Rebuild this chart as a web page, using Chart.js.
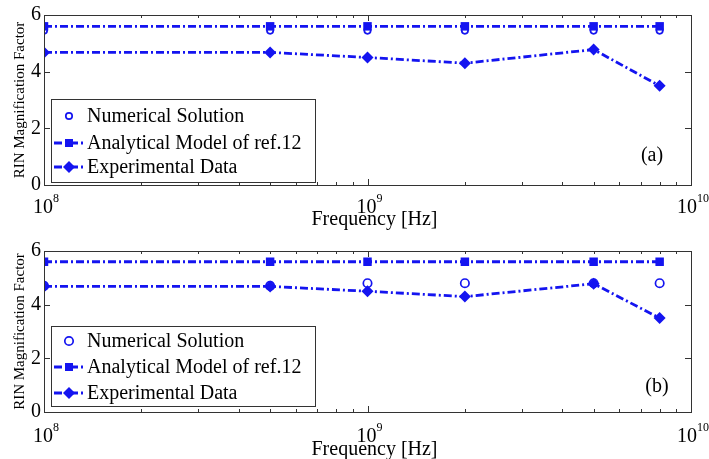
<!DOCTYPE html>
<html>
<head>
<meta charset="utf-8">
<script src="https://cdn.jsdelivr.net/npm/chart.js@4.4.1/dist/chart.umd.min.js"></script>
<style>
body { margin: 0; background: #fff; }
.panel { position: absolute; left: 0; width: 709px; }
</style>
</head>
<body>
<div class="panel" style="top:0;height:230px"><canvas id="chartA" width="709" height="230"></canvas></div>
<div class="panel" style="top:230px;height:229px"><canvas id="chartB" width="709" height="229"></canvas></div>
<script>
// datos
const frequencies = [1e8, 5e8, 1e9, 2e9, 5e9, 8e9];
const numericalA = [5.45, 5.45, 5.45, 5.45, 5.45, 5.45];
const analyticalA = [5.6, 5.6, 5.6, 5.6, 5.6, 5.6];
const experimentalA = [4.68, 4.68, 4.5, 4.3, 4.78, 3.5];
const numericalB = [4.7, 4.7, 4.8, 4.8, 4.8, 4.8];
const analyticalB = [5.6, 5.6, 5.6, 5.6, 5.6, 5.6];
const experimentalB = [4.68, 4.68, 4.5, 4.3, 4.78, 3.5];
const seriesNames = ["Numerical Solution", "Analytical Model of ref.12", "Experimental Data"];
const yTicks = [0, 2, 4, 6];
const xDecades = [8, 9, 10];

const BLUE = '#1414f0';
const SERIF = '"Liberation Serif", "Times New Roman", serif';
const DASH = [8, 3, 2, 3];

function pts(vals) {
    return frequencies.map((f, i) => ({ x: f, y: vals[i] }));
}

function drawMarker(ctx, style, x, y, r) {
    ctx.save();
    ctx.setLineDash([]);
    ctx.beginPath();
    if (style === 'circle') {
        ctx.arc(x, y, r, 0, Math.PI * 2);
        ctx.lineWidth = 1.7;
        ctx.strokeStyle = BLUE;
        ctx.stroke();
    } else if (style === 'rect') {
        ctx.rect(x - r, y - r, 2 * r, 2 * r);
        ctx.fillStyle = BLUE;
        ctx.fill();
    } else {
        ctx.moveTo(x - r, y); ctx.lineTo(x, y - r); ctx.lineTo(x + r, y); ctx.lineTo(x, y + r);
        ctx.closePath();
        ctx.fillStyle = BLUE;
        ctx.fill();
    }
    ctx.restore();
}

const framePlugin = {
    id: 'frame',
    afterDraw(chart, args, opts) {
        const ctx = chart.ctx;
        const a = chart.chartArea;
        const xs = chart.scales.x;
        const ys = chart.scales.y;
        ctx.save();
        ctx.strokeStyle = '#333';
        ctx.lineWidth = 1;
        ctx.setLineDash([]);
        ctx.strokeRect(a.left + 0.5, a.top + 0.5, a.right - a.left, a.bottom - a.top);

        // marcas del eje x (hacia dentro)
        ctx.beginPath();
        for (let d = 8; d <= 9; d++) {
            for (let m = 1; m <= 9; m++) {
                const px = Math.round(xs.getPixelForValue(m * Math.pow(10, d))) + 0.5;
                const len = m === 1 ? 6 : 3;
                ctx.moveTo(px, a.bottom); ctx.lineTo(px, a.bottom - len);
                ctx.moveTo(px, a.top); ctx.lineTo(px, a.top + len);
            }
        }
        ys.ticks.forEach(t => {
            const py = Math.round(ys.getPixelForValue(t.value)) + 0.5;
            ctx.moveTo(a.left, py); ctx.lineTo(a.left + 6, py);
            ctx.moveTo(a.right, py); ctx.lineTo(a.right - 6, py);
        });
        ctx.stroke();

        // etiquetas 10^n
        ctx.fillStyle = '#000';
        ctx.textBaseline = 'alphabetic';
        xDecades.forEach(d => {
            const px = xs.getPixelForValue(Math.pow(10, d));
            ctx.font = '20px ' + SERIF;
            const wb = ctx.measureText('10').width;
            ctx.font = '12px ' + SERIF;
            const we = ctx.measureText(String(d)).width;
            const x0 = px - (wb + we) / 2 + 2;
            ctx.font = '20px ' + SERIF;
            ctx.textAlign = 'left';
            ctx.fillText('10', x0, a.bottom + opts.tickBase);
            ctx.font = '12px ' + SERIF;
            ctx.fillText(String(d), x0 + wb, a.bottom + opts.tickBase - 11);
        });

        // titulos
        ctx.font = '20px ' + SERIF;
        ctx.textAlign = 'center';
        ctx.fillText('Frequency [Hz]', (a.left + a.right) / 2 + 7, a.bottom + opts.titleBase);
        ctx.save();
        ctx.translate(19, (a.top + a.bottom) / 2);
        ctx.rotate(-Math.PI / 2);
        ctx.font = '15px ' + SERIF;
        ctx.fillText('RIN Magnification Factor', 0, 5);
        ctx.restore();

        // etiqueta del panel
        ctx.font = '20px ' + SERIF;
        ctx.fillText(opts.panel, opts.panelX, opts.panelY);

        // leyenda
        const L = opts.legend;
        ctx.fillStyle = '#fff';
        ctx.fillRect(L.x, L.y, L.w, L.h);
        ctx.strokeStyle = '#333';
        ctx.strokeRect(L.x + 0.5, L.y + 0.5, L.w, L.h);
        const styles = ['circle', 'rect', 'rectRot'];
        const radii = [opts.circleR, 4, 6];
        seriesNames.forEach((name, i) => {
            const cy = L.y + L.rows[i];
            if (i > 0) {
                ctx.beginPath();
                ctx.strokeStyle = BLUE;
                ctx.lineWidth = 2.8;
                ctx.setLineDash(DASH);
                ctx.moveTo(L.x + 3, cy); ctx.lineTo(L.x + 34, cy);
                ctx.stroke();
                ctx.setLineDash([]);
            }
            drawMarker(ctx, styles[i], L.x + 18, cy, radii[i]);
            ctx.fillStyle = '#000';
            ctx.font = '20px ' + SERIF;
            ctx.textAlign = 'left';
            ctx.fillText(name, L.x + 36, cy + 6);
        });
        ctx.restore();
    }
};

function makeChart(id, numerical, analytical, experimental, cfg) {
    return new Chart(document.getElementById(id), {
        type: 'line',
        data: {
            datasets: [
                {
                    label: seriesNames[0], data: pts(numerical), showLine: false,
                    pointStyle: 'circle', pointRadius: cfg.circleR, pointBorderWidth: 1.7,
                    pointBorderColor: BLUE, pointBackgroundColor: 'rgba(0,0,0,0)'
                },
                {
                    label: seriesNames[1], data: pts(analytical), borderColor: BLUE, borderWidth: 2.8,
                    borderDash: DASH, pointStyle: 'rect', pointRadius: 6, pointBorderWidth: 0,
                    pointBackgroundColor: BLUE
                },
                {
                    label: seriesNames[2], data: pts(experimental), borderColor: BLUE, borderWidth: 2.8,
                    borderDash: DASH, pointStyle: 'rectRot', pointRadius: 6, pointBorderWidth: 0,
                    pointBackgroundColor: BLUE
                }
            ]
        },
        options: {
            responsive: false,
            animation: false,
            layout: { padding: { top: cfg.top, right: 18, left: 0, bottom: 0 } },
            scales: {
                x: {
                    type: 'logarithmic', min: 1e8, max: 1e10,
                    ticks: { display: false }, grid: { display: false }, border: { display: false },
                    afterFit: s => { s.height = cfg.xHeight; }
                },
                y: {
                    min: 0, max: 6,
                    ticks: { stepSize: 2, color: '#000', padding: 3, font: { family: SERIF, size: 20 } },
                    grid: { display: false, drawTicks: false }, border: { display: false },
                    afterFit: s => { s.width = 44; }
                }
            },
            plugins: {
                legend: { display: false },
                tooltip: { enabled: false },
                frame: cfg
            }
        },
        plugins: [framePlugin]
    });
}

makeChart('chartA', numericalA, analyticalA, experimentalA, {
    top: 15, xHeight: 45, tickBase: 28, titleBase: 40, circleR: 3.2,
    panel: '(a)', panelX: 652, panelY: 161,
    legend: { x: 51, y: 99, w: 264, h: 83, rows: [17, 44, 68] }
});
makeChart('chartB', numericalB, analyticalB, experimentalB, {
    top: 21, xHeight: 47, tickBase: 30, titleBase: 43, circleR: 4.2,
    panel: '(b)', panelX: 657, panelY: 162,
    legend: { x: 51, y: 96, w: 264, h: 80, rows: [15, 41, 67] }
});
</script>
</body>
</html>
